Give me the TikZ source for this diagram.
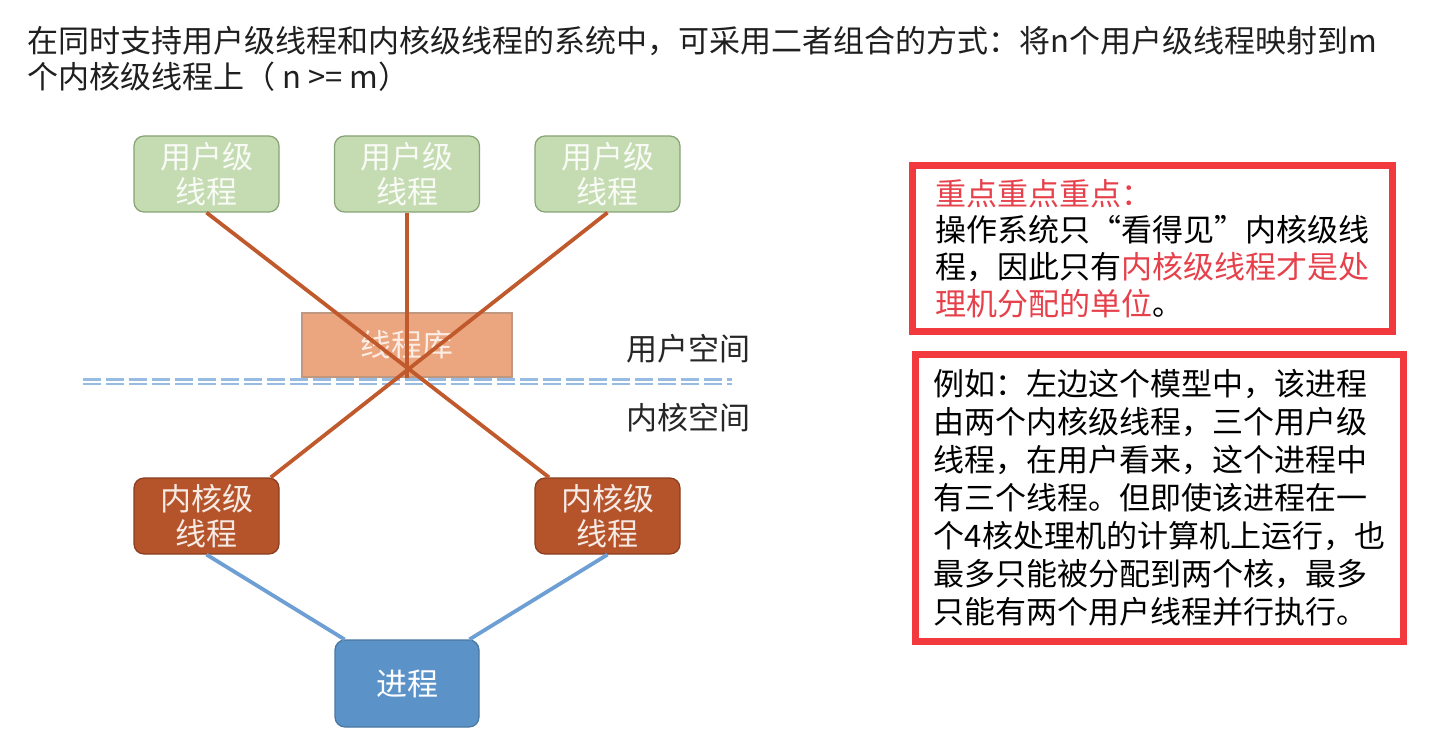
\documentclass[tikz,border=0pt]{standalone}
\usepackage{fontspec}
\setmainfont{Noto Sans CJK SC}
\usepackage{xcolor}
\usepackage{tikz}
\usetikzlibrary{positioning,calc}

\definecolor{ugreen}{HTML}{C5DBB1}
\definecolor{ugreenline}{HTML}{87A374}
\definecolor{libfill}{HTML}{EBA67F}
\definecolor{kbrown}{HTML}{B5532A}
\definecolor{pblue}{HTML}{5B93C9}
\definecolor{linkbrown}{HTML}{C0592B}
\definecolor{linkblue}{HTML}{6E9FD4}
\definecolor{sepblue}{HTML}{98BBE2}
\definecolor{boxred}{HTML}{F23A3E}
\definecolor{hired}{HTML}{E6404B}

\begin{document}
\begin{tikzpicture}[x=0.5pt,y=-0.5pt,
  txt/.style={font=\fontsize{15.5}{18}\selectfont},
  thr/.style={txt,rounded corners=5pt,minimum width=72.5pt,minimum height=38pt,
    align=center,inner sep=0pt,font=\fontsize{15.5}{17.5}\selectfont},
  ubox/.style={thr,fill=ugreen,draw=ugreenline,line width=0.6pt,text=white!88!ugreen},
  kbox/.style={thr,fill=kbrown,draw=kbrown!75!black,line width=0.6pt,text=white!88!kbrown},
  note/.style={draw=boxred,line width=3.5pt,align=left,inner sep=0pt},
  link/.style={linkbrown,line width=1.9pt},
  plink/.style={linkblue,line width=1.9pt}]
  \useasboundingbox (0,0) rectangle (1433,731);

  % heading
  \node[txt,text=black!88,anchor=north west,align=left,inner sep=0pt] (title) at (27,26)
    {在同时支持用户级线程和内核级线程的系统中，可采用二者组合的方式：将n个用户级线程映射到m\\
     个内核级线程上（ n >= m）};

  % user level threads
  \node[ubox] (u1) at (206.5,174) {用户级\\线程};
  \node[ubox] (u2) at (407,174) {用户级\\线程};
  \node[ubox] (u3) at (607.5,174) {用户级\\线程};

  % thread library + border between the spaces
  \node[txt,fill=libfill,draw=libfill!60!gray,line width=0.6pt,minimum width=105pt,
    minimum height=32pt,inner sep=0pt,text=white!80!libfill] (lib) at (407,345) {线程库};
  \draw[sepblue,line width=1.3pt,dash pattern=on 9pt off 2.5pt] (83,379.5) -- (732,379.5);
  \draw[sepblue,line width=1.3pt,dash pattern=on 9pt off 2.5pt] (83,384) -- (732,384);
  \node[txt,anchor=west,inner sep=0pt,text=black!85] (us) at (626,349) {用户空间};
  \node[txt,anchor=west,inner sep=0pt,text=black!85] (ks) at (626,418) {内核空间};

  % kernel level threads and the process
  \node[kbox] (k1) at (206.5,516) {内核级\\线程};
  \node[kbox] (k2) at (607.5,516) {内核级\\线程};
  \node[thr,fill=pblue,draw=pblue!80!black,line width=0.6pt,text=white,
    minimum height=43.5pt,minimum width=72pt] (p) at (407,683.5) {进程};

  % mapping n -> m
  \draw[link] (u1.south) -- ($(k2.north west)!0.1!(k2.north east)$);
  \draw[link] (u2.south) -- (lib.south);
  \draw[link] (u3.south) -- ($(k1.north east)!0.06!(k1.north west)$);
  \draw[plink] (k1.south) -- ($(p.north west)!0.07!(p.north east)$);
  \draw[plink] (k2.south) -- ($(p.north east)!0.07!(p.north west)$);

  % notes on the right
  \node[note,txt,minimum width=240pt,minimum height=83pt,
    font=\fontsize{15.5}{18.3}\selectfont] (n1) at (1152,248.5)
    {\textcolor{hired}{重点重点重点：}\\
     操作系统只“看得见”内核级线\\
     程，因此只有\textcolor{hired}{内核级线程才是处}\\
     \textcolor{hired}{理机分配的单位}。};
  \node[note,txt,minimum width=244pt,minimum height=143pt,
    font=\fontsize{15.5}{19}\selectfont] (n2) at (1159.5,498)
    {例如：左边这个模型中，该进程\\
     由两个内核级线程，三个用户级\\
     线程，在用户看来，这个进程中\\
     有三个线程。但即使该进程在一\\
     个4核处理机的计算机上运行，也\\
     最多只能被分配到两个核，最多\\
     只能有两个用户线程并行执行。};
\end{tikzpicture}
\end{document}
